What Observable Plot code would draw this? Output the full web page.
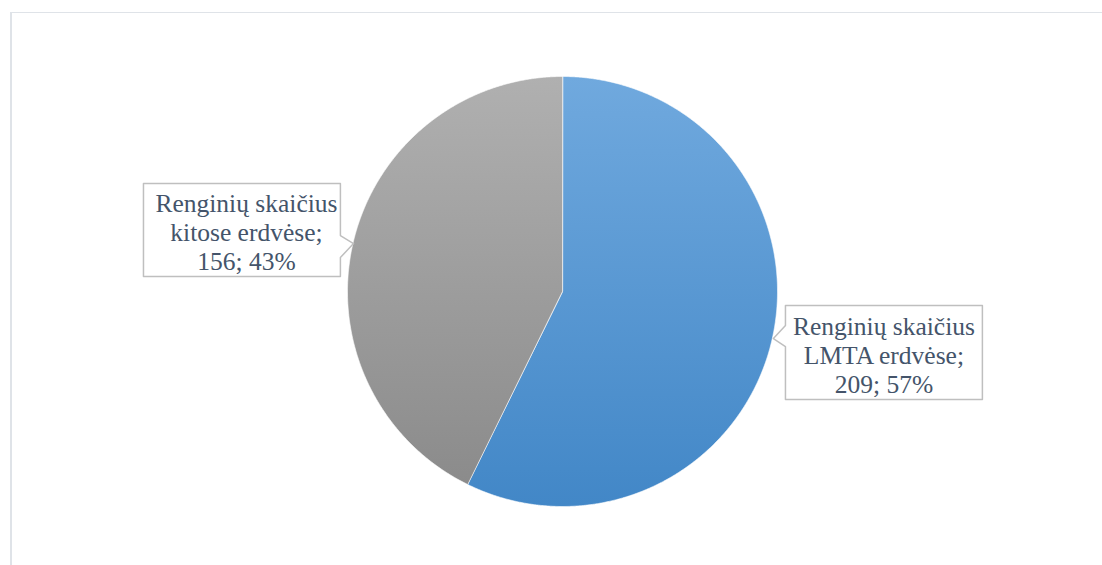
<!DOCTYPE html>
<html>
<head>
<meta charset="utf-8">
<script src="https://cdn.jsdelivr.net/npm/d3@7"></script>
<script src="https://cdn.jsdelivr.net/npm/@observablehq/plot@0.6"></script>
<style>
  body { margin: 0; background: #fff; }
  #wrap { position: relative; width: 1102px; height: 565px; overflow: hidden; background: #fff; }
  #border { position: absolute; left: 10px; top: 12px; width: 1200px; height: 620px; border-left: 2px solid #dfe3e8; border-top: 1.5px solid #dfe3e8; box-sizing: border-box; }
  #chart { position: absolute; left: 0; top: 0; }
</style>
</head>
<body>
<div id="wrap"><div id="border"></div><div id="chart"></div></div>
<script>
// ---- data ----
const categories = ["Renginių skaičius LMTA erdvėse", "Renginių skaičius kitose erdvėse"];
const values = [209, 156];
const sliceColors = [["#70a9de", "#4287c7"], ["#b0b0b0", "#8b8b8b"]];

// ---- derived ----
const total = d3.sum(values);
const arcs = d3.pie().sort(null).value(d => d)(values);

function slice(a0, a1, i) {
  const n = Math.max(2, Math.ceil((a1 - a0) / 0.005));
  const ring = [[0, 0]];
  for (let k = 0; k <= n; k++) {
    const a = a0 + (a1 - a0) * k / n;
    ring.push([Math.sin(a), -Math.cos(a)]);
  }
  ring.push([0, 0]);
  return {type: "Feature", properties: {i}, geometry: {type: "Polygon", coordinates: [ring]}};
}
const slices = arcs.map((a, i) => slice(a.startAngle, a.endAngle, i));

// label layout (unit = pie radius, y downward)
const labelLayout = [
  {box: [1.037, 0.065, 1.953, 0.502], ptr: [[1.037, 0.158], [0.981, 0.219], [1.037, 0.256]], side: "left", tx: 1.495, ty: 0.293},
  {box: [-1.949, -0.502, -1.033, -0.070], ptr: [[-1.033, -0.26], [-0.972, -0.223], [-1.033, -0.158]], side: "right", tx: -1.47, ty: -0.277}
];

function callout(L) {
  const [x0, y0, x1, y1] = L.box;
  let ring;
  if (L.side === "left") {
    ring = [[x0, y0], [x1, y0], [x1, y1], [x0, y1], L.ptr[2], L.ptr[1], L.ptr[0], [x0, y0]];
  } else {
    ring = [[x0, y0], [x1, y0], L.ptr[0], L.ptr[1], L.ptr[2], [x1, y1], [x0, y1], [x0, y0]];
  }
  return {type: "Feature", geometry: {type: "Polygon", coordinates: [ring]}};
}
const boxes = labelLayout.map(callout);

const labels = categories.map((c, i) => {
  const w = c.split(" ");
  const pct = Math.round(values[i] / total * 100);
  return {
    x: labelLayout[i].tx,
    y: labelLayout[i].ty,
    text: `${w.slice(0, 2).join(" ")}\n${w.slice(2).join(" ")};\n${values[i]}; ${pct}%`
  };
});

const plot = Plot.plot({
  width: 1102,
  height: 565,
  marginLeft: 22, marginRight: 0, marginTop: 17, marginBottom: 0,
  projection: {
    type: "identity",
    domain: {type: "MultiPoint", coordinates: [[-1, -1], [1, 1]]},
    insetTop: 59, insetBottom: 59
  },
  style: {background: "transparent"},
  marks: [
    ...slices.map((s, i) => Plot.geo([s], {fill: `url(#grad${i})`, stroke: "#ffffff", strokeWidth: 1, strokeOpacity: 0.6})),
    Plot.geo(boxes, {fill: "#ffffff", stroke: "#bfbfbf", strokeWidth: 1.5}),
    Plot.text(labels, {
      x: "x", y: "y", text: "text",
      fontSize: 25.5, lineHeight: 1.13,
      fontFamily: "Liberation Serif, serif",
      fill: "#44546a", textAnchor: "middle"
    })
  ]
});

const svg = d3.select(plot);
const defs = svg.insert("defs", ":first-child");
sliceColors.forEach((c, i) => {
  const g = defs.append("linearGradient").attr("id", `grad${i}`)
    .attr("x1", 0).attr("y1", 0).attr("x2", 0).attr("y2", 1);
  g.append("stop").attr("offset", "0%").attr("stop-color", c[0]);
  g.append("stop").attr("offset", "100%").attr("stop-color", c[1]);
});

document.getElementById("chart").appendChild(plot);
</script>
</body>
</html>
